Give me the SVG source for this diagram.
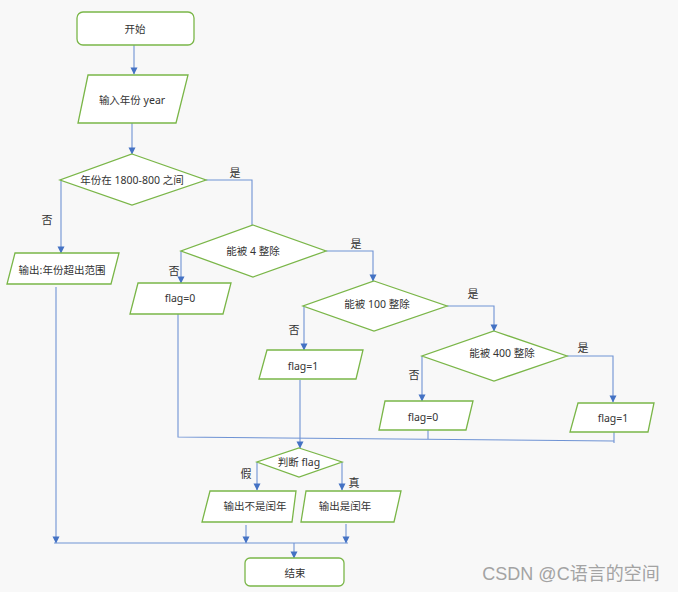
<svg xmlns="http://www.w3.org/2000/svg" width="678" height="592" viewBox="0 0 678 592">
<style>
.n{fill:#ffffff;stroke:#7ab648;stroke-width:1.3}
.t{font-family:"Noto Sans","Noto Sans CJK SC",sans-serif;font-size:10.5px;fill:#333;text-anchor:middle;dominant-baseline:central}
.c{fill:none;stroke:#6f93d4;stroke-width:1.1}
.l{font-family:"Noto Sans CJK SC",sans-serif;font-size:11px;fill:#333;text-anchor:middle;dominant-baseline:central}
</style>
<defs>
<marker id="b" markerWidth="8" markerHeight="8" refX="7" refY="4" orient="auto" markerUnits="userSpaceOnUse" viewBox="0 0 8 8">
<path d="M0.5,0.5 L7.5,4 L0.5,7.5 Z" fill="#4472c4"/>
</marker>
</defs>
<rect width="678" height="592" fill="#f8f8f8"/>
<g id="connectors">
<path class="c" d="M134,45 V74" marker-end="url(#b)"/>
<path class="c" d="M132,123 V154" marker-end="url(#b)"/>
<path class="c" d="M206,180 H252 V226"/>
<path class="c" d="M61,180 V253" marker-end="url(#b)"/>
<path class="c" d="M56,287 V543" marker-end="url(#b)"/>
<path class="c" d="M326,251 H373 V281" marker-end="url(#b)"/>
<path class="c" d="M181,251 V283" marker-end="url(#b)"/>
<path class="c" d="M447,306 H494 V331" marker-end="url(#b)"/>
<path class="c" d="M304,306 V350" marker-end="url(#b)"/>
<path class="c" d="M567,356 H613 V402" marker-end="url(#b)"/>
<path class="c" d="M422,356 V401" marker-end="url(#b)"/>
<path class="c" d="M178,314 V437 L614,441"/>
<path class="c" d="M428,430 V439"/>
<path class="c" d="M614,432 V443"/>
<path class="c" d="M300,380 V448" marker-end="url(#b)"/>
<path class="c" d="M257,462 V490" marker-end="url(#b)"/>
<path class="c" d="M342,462 V490" marker-end="url(#b)"/>
<path class="c" d="M246,525 V543" marker-end="url(#b)"/>
<path class="c" d="M346,524 V543" marker-end="url(#b)"/>
<path class="c" d="M54,543 H348"/>
<path class="c" d="M294,543 V558" marker-end="url(#b)"/>
<text class="l" x="235" y="172">是</text>
<text class="l" x="47" y="219">否</text>
<text class="l" x="174" y="270">否</text>
<text class="l" x="356" y="243">是</text>
<text class="l" x="294" y="329">否</text>
<text class="l" x="473" y="293">是</text>
<text class="l" x="414" y="374">否</text>
<text class="l" x="583" y="347">是</text>
<text class="l" x="246" y="473">假</text>
<text class="l" x="354" y="482">真</text>
</g>
<g id="start">
<rect class="n" x="77" y="12" width="117" height="33" rx="6"/>
<text class="t" x="135" y="29">开始</text>
</g>
<g id="input">
<polygon class="n" points="88,75 188,75 176,123 78,123"/>
<text class="t" x="132" y="100">输入年份 year</text>
</g>
<g id="range">
<polygon class="n" points="132,154 206,180 132,205 60,180"/>
<text class="t" x="132" y="180">年份在 1800-800 之间</text>
</g>
<g id="outofrange">
<polygon class="n" points="15,253 119,253 111,284 7,284"/>
<text class="t" x="62" y="270">输出:年份超出范围</text>
</g>
<g id="div4">
<polygon class="n" points="253,225 326,251 253,277 181,251"/>
<text class="t" x="253" y="251">能被 4 整除</text>
</g>
<g id="flag0a">
<polygon class="n" points="138,283 231,283 223,314 130,314"/>
<text class="t" x="180" y="298">flag=0</text>
</g>
<g id="div100">
<polygon class="n" points="374,281 447,306 374,331 303,306"/>
<text class="t" x="377" y="304">能被 100 整除</text>
</g>
<g id="flag1a">
<polygon class="n" points="267,350 363,350 356,379 259,379"/>
<text class="t" x="303" y="366">flag=1</text>
</g>
<g id="div400">
<polygon class="n" points="494,331 567,356 494,381 422,356"/>
<text class="t" x="502" y="353">能被 400 整除</text>
</g>
<g id="flag0b">
<polygon class="n" points="385,401 473,401 466,430 379,430"/>
<text class="t" x="423" y="417">flag=0</text>
</g>
<g id="flag1b">
<polygon class="n" points="578,403 654,403 648,432 570,432"/>
<text class="t" x="613" y="418">flag=1</text>
</g>
<g id="judge">
<polygon class="n" points="299,448 342,462 299,477 257,462"/>
<text class="t" x="299" y="462">判断 flag</text>
</g>
<g id="notleap">
<polygon class="n" points="210,491 296,491 292,522 202,522"/>
<text class="t" x="255" y="506">输出不是闰年</text>
</g>
<g id="leap">
<polygon class="n" points="306,491 401,491 394,522 301,522"/>
<text class="t" x="345" y="506">输出是闰年</text>
</g>
<g id="end">
<rect class="n" x="245" y="558" width="99" height="28" rx="5"/>
<text class="t" x="295" y="573">结束</text>
</g>
<text x="571" y="574" style="font-family:'Liberation Sans','Noto Sans CJK SC',sans-serif;font-size:18px;fill:#a3a3a3;text-anchor:middle;dominant-baseline:central">CSDN @C语言的空间</text>
</svg>
